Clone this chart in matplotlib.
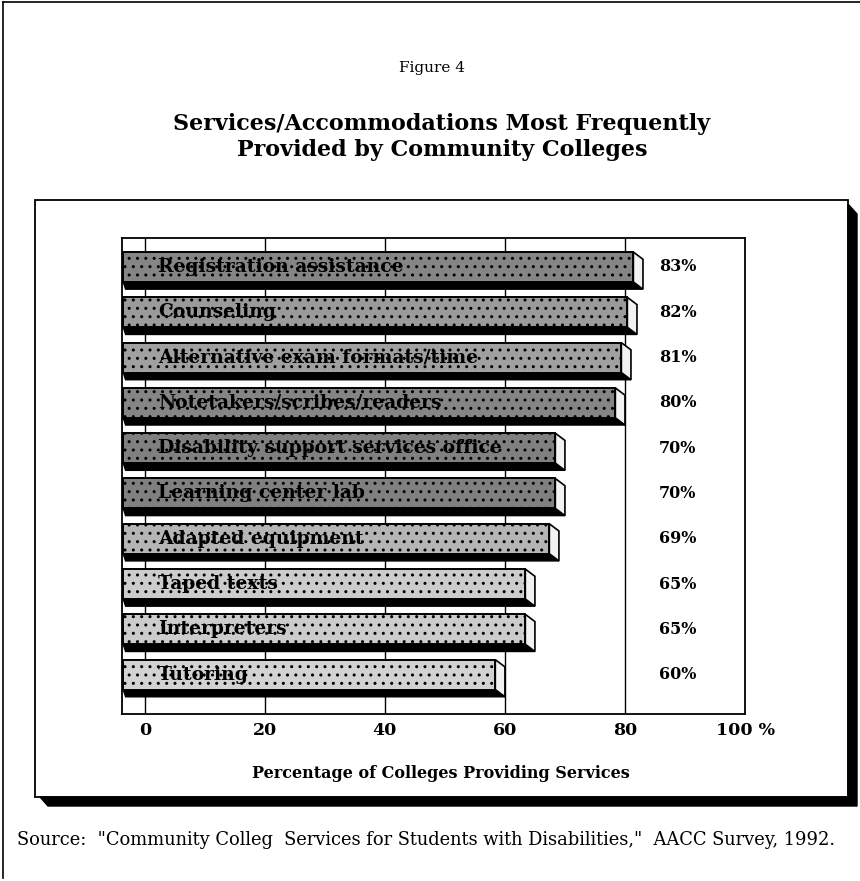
import matplotlib
matplotlib.use("Agg")
import matplotlib.pyplot as plt
from matplotlib.patches import Polygon, Rectangle
from matplotlib.lines import Line2D

# data
services = ["Registration assistance", "Counseling", "Alternative exam formats/time",
            "Notetakers/scribes/readers", "Disability support services office",
            "Learning center lab", "Adapted equipment", "Taped texts",
            "Interpreters", "Tutoring"]
percent = [83, 82, 81, 80, 70, 70, 69, 65, 65, 60]
xticks = [0, 20, 40, 60, 80, 100]
xticklabels = ["0", "20", "40", "60", "80", "100 %"]

# grey shade of each bar's front face (style only)
shades = ["#858585", "#9a9a9a", "#a0a0a0", "#858585", "#808080",
          "#808080", "#b5b5b5", "#cccccc", "#cccccc", "#d2d2d2"]

W, H = 860, 881
fig = plt.figure(figsize=(W / 100, H / 100), dpi=100)
fx = lambda px: px / W
fy = lambda py: 1 - py / H
serif = "DejaVu Serif"

# page border (left and top)
fig.add_artist(Line2D([fx(3), fx(3)], [fy(2), fy(878)], color="black", lw=1.2))
fig.add_artist(Line2D([fx(3), fx(860)], [fy(2), fy(2)], color="black", lw=1.2))

fig.text(fx(432), fy(68), "Figure 4", ha="center", va="center",
         family=serif, fontsize=11)
fig.text(fx(442), fy(137), "Services/Accommodations Most Frequently\nProvided by Community Colleges",
         ha="center", va="center", family=serif, fontsize=16, fontweight="bold",
         linespacing=1.25)

# outer box with drop shadow
fig.add_artist(Rectangle((fx(35), fy(797)), fx(848) - fx(35), fy(200) - fy(797),
                         transform=fig.transFigure, fill=False, ec="black", lw=1.3))
fig.add_artist(Polygon([(fx(848), fy(204)), (fx(857), fy(214)), (fx(857), fy(806)),
                        (fx(848), fy(797))], closed=True, transform=fig.transFigure,
                       fc="black", ec="black"))
fig.add_artist(Polygon([(fx(40), fy(797)), (fx(848), fy(797)), (fx(857), fy(806)),
                        (fx(48), fy(806))], closed=True, transform=fig.transFigure,
                       fc="black", ec="black"))

ax = fig.add_axes([fx(122), fy(714), fx(745) - fx(122), fy(238) - fy(714)])
ax.set_xlim(-3.8, 100)
ax.set_ylim(9.85, -0.66)

for x in xticks[:-1]:
    ax.plot([x, x], [9.85, -0.66], color="black", lw=1.0, zorder=0)

h = 0.66
dx, dy = 1.6, 0.16
left = -3.6
for i, (name, v) in enumerate(zip(services, percent)):
    top = i - 0.35
    bot = top + h
    r = v - dx
    # bottom (dark) face
    ax.add_patch(Polygon([(left, bot), (r, bot), (v, bot + dy), (left + 0.4, bot + dy)],
                         closed=True, fc="black", ec="black", lw=1, zorder=2))
    # right side face
    ax.add_patch(Polygon([(r, top), (v, top + dy), (v, bot + dy), (r, bot)],
                         closed=True, fc="#f2f2f2", ec="black", lw=1.2, zorder=2))
    # front face
    ax.add_patch(Rectangle((left, top), r - left, h, fc=shades[i], ec="black",
                           lw=1.4, hatch="..", zorder=3))
    ax.text(2.2, i - 0.02, name, ha="left", va="center", family=serif,
            fontsize=13.5, fontweight="bold", color="black", zorder=4)
    ax.text(88.8, i - 0.02, f"{v}%", ha="center", va="center", family=serif,
            fontsize=11.5, fontweight="bold", color="black")

ax.set_xticks(xticks)
ax.set_xticklabels(xticklabels, family=serif, fontsize=12.5, fontweight="bold")
ax.tick_params(axis="x", length=0, pad=6)
ax.set_yticks([])
for s in ax.spines.values():
    s.set_linewidth(1.3)

fig.text(fx(441), fy(773), "Percentage of Colleges Providing Services", ha="center",
         va="center", family=serif, fontsize=11.5, fontweight="bold")

fig.text(fx(17), fy(840),
         'Source:  "Community Colleg  Services for Students with Disabilities,"  AACC Survey, 1992.',
         ha="left", va="center", family=serif, fontsize=12.9)

fig.savefig("out.png", dpi=100, facecolor="white")
